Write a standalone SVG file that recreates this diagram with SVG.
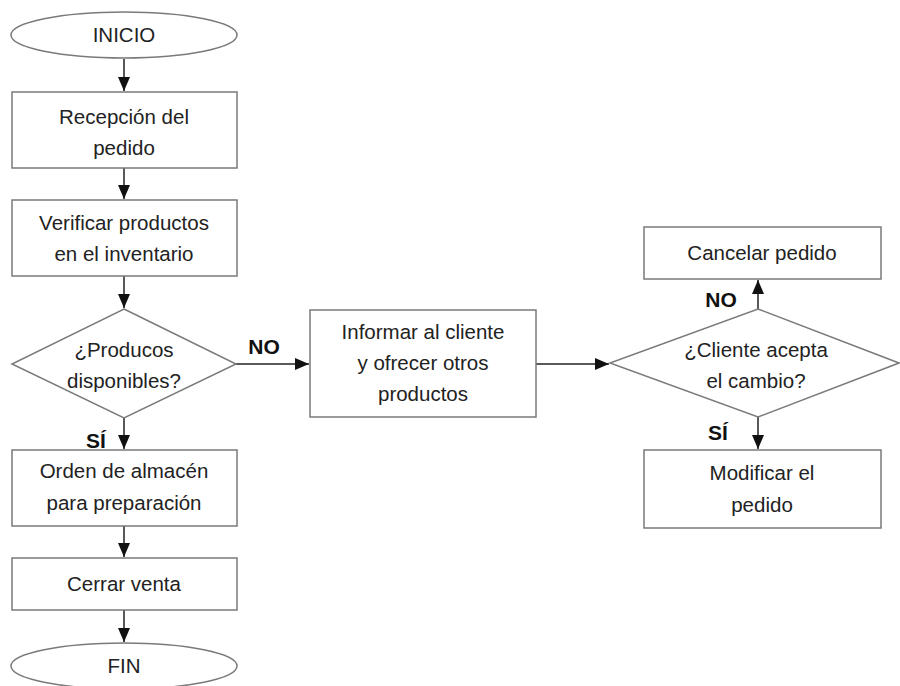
<svg xmlns="http://www.w3.org/2000/svg" width="900" height="686" viewBox="0 0 900 686">
<defs>
<style>
.shape{fill:#fff;stroke:#7a7a7a;stroke-width:1.5}
.t{font-family:"Liberation Sans",Arial,sans-serif;font-size:20.5px;fill:#222;text-anchor:middle}
.lbl{font-family:"Liberation Sans",Arial,sans-serif;font-size:21px;font-weight:bold;fill:#111;text-anchor:middle}
.c{stroke:#222;stroke-width:1.5;fill:none;marker-end:url(#ah)}
</style>
<marker id="ah" viewBox="0 0 14 12" refX="14" refY="6" markerWidth="14" markerHeight="12" markerUnits="userSpaceOnUse" orient="auto">
<path d="M0,0 L14,6 L0,12 z" fill="#111"/>
</marker>
</defs>
<rect width="900" height="686" fill="#fff"/>
<g id="connectors">
<line class="c" x1="124" y1="59" x2="124" y2="91"/>
<line class="c" x1="124" y1="168" x2="124" y2="199"/>
<line class="c" x1="124" y1="276" x2="124" y2="308"/>
<line class="c" x1="236" y1="364" x2="309" y2="364"/>
<line class="c" x1="124" y1="418" x2="124" y2="449"/>
<line class="c" x1="124" y1="526" x2="124" y2="557"/>
<line class="c" x1="124" y1="610" x2="124" y2="642"/>
<line class="c" x1="536" y1="364" x2="609" y2="364"/>
<line class="c" x1="758" y1="309" x2="758" y2="280"/>
<line class="c" x1="758" y1="417" x2="758" y2="449"/>
<text class="lbl" x="264" y="354">NO</text>
<text class="lbl" x="96" y="448">SÍ</text>
<text class="lbl" x="721" y="307">NO</text>
<text class="lbl" x="718" y="440">SÍ</text>
</g>
<g id="inicio">
<ellipse class="shape" cx="124" cy="35" rx="113" ry="23"/>
<text class="t" x="124" y="42">INICIO</text>
</g>
<g id="recepcion">
<rect class="shape" x="12" y="92" width="225" height="76"/>
<text class="t" x="124" y="124">Recepción del</text>
<text class="t" x="124" y="155">pedido</text>
</g>
<g id="verificar">
<rect class="shape" x="12" y="200" width="225" height="76"/>
<text class="t" x="124" y="230">Verificar productos</text>
<text class="t" x="124" y="261">en el inventario</text>
</g>
<g id="disponibles">
<polygon class="shape" points="124,309 236,364 124,418 12,364"/>
<text class="t" x="124" y="357">¿Producos</text>
<text class="t" x="124" y="388">disponibles?</text>
</g>
<g id="orden">
<rect class="shape" x="12" y="450" width="225" height="76"/>
<text class="t" x="124" y="478">Orden de almacén</text>
<text class="t" x="124" y="510">para preparación</text>
</g>
<g id="cerrar">
<rect class="shape" x="12" y="558" width="225" height="52"/>
<text class="t" x="124" y="591">Cerrar venta</text>
</g>
<g id="fin">
<ellipse class="shape" cx="124" cy="666" rx="113" ry="23"/>
<text class="t" x="124" y="673">FIN</text>
</g>
<g id="informar">
<rect class="shape" x="310" y="310" width="226" height="107"/>
<text class="t" x="423" y="339">Informar al cliente</text>
<text class="t" x="423" y="370">y ofrecer otros</text>
<text class="t" x="423" y="401">productos</text>
</g>
<g id="acepta">
<polygon class="shape" points="758,309 899,363 758,417 610,363"/>
<text class="t" x="756" y="357">¿Cliente acepta</text>
<text class="t" x="756" y="388">el cambio?</text>
</g>
<g id="cancelar">
<rect class="shape" x="644" y="227" width="237" height="52"/>
<text class="t" x="762" y="260">Cancelar pedido</text>
</g>
<g id="modificar">
<rect class="shape" x="644" y="450" width="237" height="78"/>
<text class="t" x="762" y="480">Modificar el</text>
<text class="t" x="762" y="512">pedido</text>
</g>
</svg>
